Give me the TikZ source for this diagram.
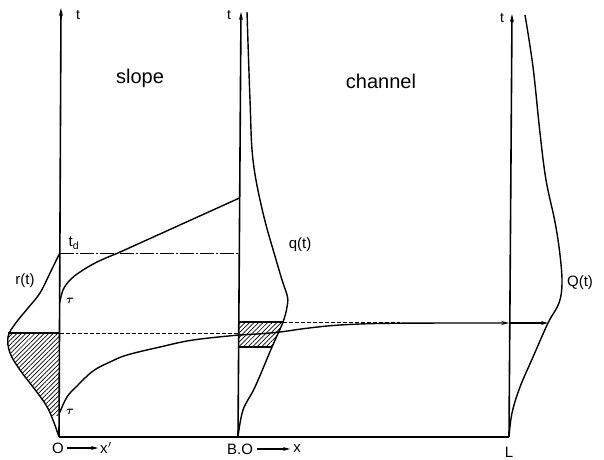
\documentclass[tikz,border=0pt]{standalone}
\usepackage{fontspec}
\setmainfont{Liberation Sans}
\usetikzlibrary{arrows.meta,patterns.meta}
\begin{document}
\begin{tikzpicture}[x=1pt,y=-1pt,
  axis/.style={line width=1.6pt,-{Stealth[length=8pt,width=4pt]}},
  curve/.style={line width=1.4pt},
  base/.style={line width=1.4pt},
  lbl/.style={font=\fontsize{15}{15}\selectfont, inner sep=0pt},
  tlbl/.style={font=\fontsize{14}{14}\selectfont, inner sep=0pt},
  big/.style={font=\fontsize{20}{20}\selectfont, inner sep=0pt},
  taulbl/.style={font=\fontsize{13}{13}\selectfont\boldmath, inner sep=0pt},
  hatch/.style={pattern={Lines[angle=45,distance=3.2pt,line width=0.7pt]}},
  dashline/.style={line width=1pt, dash pattern=on 4pt off 2pt},
  dashdot/.style={line width=1pt, dash pattern=on 14pt off 2pt on 2pt off 2pt},
  smallarrow/.style={line width=1.1pt,-{Stealth[length=7pt,width=4pt]}}]
\useasboundingbox (0,0) rectangle (604,459);

% key coordinates
\coordinate (O) at (59,437);
\coordinate (Otop) at (61,8);
\coordinate (B) at (238,437);
\coordinate (Btop) at (241,12);
\coordinate (L) at (509,437);
\coordinate (Ltop) at (512,14);
\coordinate (tdS) at (59.8,253);
\coordinate (tdB) at (239.5,253);
\coordinate (pkS) at (59.5,333);
\coordinate (pkB) at (238.8,333);
\coordinate (qA) at (283,322);
\coordinate (qM) at (400,322);
\coordinate (chL) at (509.3,323);
\coordinate (Qpt) at (548,323);

% hatched area under r(t)
\begin{scope}
  \clip (0,333) rectangle (59.5,415);
  \fill[hatch] plot[smooth,tension=0.6] coordinates {(59.8,253)(50,273)(40,293)(28,308)(15,324)(8,337)(10,353)(20,370)(33,387)(46,405)(53,420)(59,437)} -- cycle;
\end{scope}
% hatched area under q(t)
\begin{scope}
  \clip (239,322) rectangle (300,347);
  \fill[hatch] (238,437) -- plot[smooth,tension=0.6] coordinates {(238,437)(243,410)(255,387)(272,347)(283,322)(287,307)(287.5,297)(283,283)(277,263)(263,213)(253,160)(250,100)(247,12)} -- (241,12) -- cycle;
\end{scope}

% axes
\draw[axis] (O) -- (Otop);
\draw[axis] (B) -- (Btop);
\draw[axis] (L) -- (Ltop);
\draw[base] (O) -- (L);

% r(t)
\draw[curve] plot[smooth,tension=0.6] coordinates {(59.8,253)(50,273)(40,293)(28,308)(15,324)(8,337)(10,353)(20,370)(33,387)(46,405)(53,420)(59,437)};
% q(t)
\draw[curve] plot[smooth,tension=0.6] coordinates {(238,437)(243,410)(255,387)(272,347)(283,322)(287,307)(287.5,297)(283,283)(277,263)(263,213)(253,160)(250,100)(247,12)};
% Q(t)
\draw[curve] plot[smooth,tension=0.6] coordinates {(509,437)(512,413)(520,387)(533,357)(548,323)(559,303)(562,283)(560,255)(555,222)(546,180)(540,133)(533,67)(525,15)};

% t_d line and peak line
\draw[dashdot] (tdS) -- (tdB);
\draw[line width=1.2pt] (8,333) -- (pkS);
\draw[dashline] (pkS) -- (pkB);
\draw[line width=1.2pt] (239,322) -- (qA);
\draw[line width=1.6pt] (239,347) -- (272,347);
\draw[dashline] (qA) -- (qM);

% characteristics on the slope
\draw[curve] plot[smooth,tension=0.6] coordinates {(59.5,413)(67,397)(77,386)(93,371)(110,362)(127,355)(160,347)(193,340)(238.8,335)};
\draw[curve] plot[smooth,tension=0.6] coordinates {(59.7,303)(63,290)(70,280)(80,272)(97,262)(118,253)} -- (239.5,198);
% characteristic in the channel
\draw[curve,-{Stealth[length=8pt,width=4pt]}] plot[smooth,tension=0.6] coordinates {(238.8,335)(260,333.8)(280,332)(305,328.5)(333,325.5)(365,323.8)(400,323.2)(450,323)} -- (chL);
\draw[smallarrow] (chL) -- (Qpt);

% labels
\node[big] (slope) at (140,78) {slope};
\node[big] (channel) at (381,81) {channel};
\node[tlbl] (t1) at (78,15) {t};
\node[tlbl] (t2) at (229,15) {t};
\node[tlbl] (t3) at (502,18) {t};
\node[lbl] (td) at (74,243) {t\textsubscript{d}};
\node[lbl] (rt) at (25,281) {r(t)};
\node[lbl] (qt) at (300,245) {q(t)};
\node[lbl] (Qt) at (580,283) {Q(t)};
\node[taulbl] (tau1) at (70,301) {$\tau$};
\node[taulbl] (tau2) at (70,412) {$\tau$};
\node[lbl] (Olbl) at (58,448) {O};
\node[lbl] (xp) at (106,448) {x\kern0.5pt$'$};
\coordinate (oa) at (67,448);
\coordinate (ob) at (98,448);
\draw[smallarrow] (oa) -- (ob);
\node[lbl] (BO) at (240,449) {B.O};
\node[lbl] (xl) at (297,449) {x};
\coordinate (ba) at (257,449);
\coordinate (bb) at (290,449);
\draw[smallarrow] (ba) -- (bb);
\node[lbl] (Llbl) at (509,452) {L};
\end{tikzpicture}
\end{document}
